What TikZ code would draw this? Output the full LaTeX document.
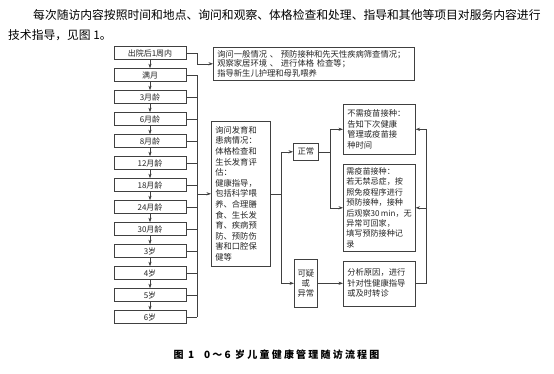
\documentclass[tikz,border=0pt]{standalone}
\usepackage{fontspec}
\setmainfont{Noto Sans CJK SC}
\usetikzlibrary{arrows.meta}
\begin{document}
\begin{tikzpicture}[x=1pt,y=-1pt,
  line/.style={draw=black!75, line width=0.6pt},
  arr/.style={line, -{Stealth[length=4.5pt,width=3.2pt]}},
  lbox/.style={draw=black!75, line width=0.6pt, minimum width=72pt, minimum height=13pt, inner sep=0pt, font=\fontsize{8}{9}\selectfont, text=black!85},
  tbox/.style={draw=black!75, line width=0.6pt, anchor=north west, align=left, inner xsep=4pt, inner ysep=2pt, font=\fontsize{8.3}{10.5}\selectfont, text=black!85},
  cbox/.style={draw=black!75, line width=0.6pt, anchor=north west, align=center, inner sep=0pt, font=\fontsize{8.3}{10}\selectfont, text=black!85}]
\useasboundingbox (0,0) rectangle (554,373);
\fill[white] (0,0) rectangle (554,373);

% header paragraph
\node[anchor=west, inner sep=0pt, font=\fontsize{11.8}{14}\selectfont] (h1) at (33,15) {每次随访内容按照时间和地点、询问和观察、体格检查和处理、指导和其他等项目对服务内容进行};
\node[anchor=west, inner sep=0pt, font=\fontsize{11.8}{14}\selectfont] (h2) at (8,35) {技术指导，见图 1。};

% left column
\foreach \i/\y/\t in {1/53/出院后1周内, 2/75/满月, 3/97/3月龄, 4/119/6月龄, 5/141/8月龄, 6/163/12月龄, 7/185/18月龄, 8/207/24月龄, 9/229/30月龄, 10/251/3岁, 11/273/4岁, 12/295/5岁, 13/317/6岁}
  \node[lbox] (L\i) at (150,\y) {\t};
\foreach \i [evaluate=\i as \j using int(\i+1)] in {1,...,12}
  \draw[arr] (L\i.south) -- (L\j.north);

% boxes
\node[tbox, text width=193pt, minimum height=33pt, font=\fontsize{8.3}{9.8}\selectfont] (top) at (213,47) {询问一般情况 、 预防接种和先天性疾病筛查情况；\\观察家居环境 、 进行体格 检查等；\\指导新生儿护理和母乳喂养};
\node[tbox, text width=51pt, minimum height=145pt, font=\fontsize{8.3}{10.6}\selectfont] (mid) at (211,121) {询问发育和\\患病情况：\\体格检查和\\生长发育评\\估：\\健康指导，\\包括科学喂\\养、合理膳\\食、生长发\\育、疾病预\\防、预防伤\\害和口腔保\\健等};
\node[cbox, minimum width=25pt, minimum height=17pt] (zc) at (293,143) {正常};
\node[cbox, minimum width=23pt, minimum height=48pt] (ky) at (294,259) {可疑\\或\\异常};
\node[tbox, text width=64pt, minimum height=50pt] (bx) at (343,104) {不需疫苗接种：\\告知下次健康\\管理或疫苗接\\种时间};
\node[tbox, inner xsep=3pt, text width=66pt, minimum height=87pt, font=\fontsize{8.1}{10.4}\selectfont] (xy) at (343,164) {需疫苗接种：\\若无禁忌症，按\\照免疫程序进行\\预防接种，接种\\\mbox{后观察30\,min，无}\\异常可回家，\\填写预防接种记\\录};
\node[tbox, text width=64pt, minimum height=45pt] (fx) at (343,260.5) {分析原因，进行\\针对性健康指导\\或及时转诊};

% junction columns
\coordinate (j1) at (197,0);
\coordinate (j2) at (281,0);
\coordinate (j3) at (330,0);
\coordinate (j4) at (426,0);

% first visit to top box
\draw[arr] (L1.east) -- (L1.east -| j1) |- (top.west);
% bus from other visits
\foreach \i in {2,...,13}
  \draw[line] (L\i.east) -- (L\i.east -| j1);
\draw[line] (L2.east -| j1) -- (L13.east -| j1);
\draw[arr] (mid.west -| j1) -- (mid.west);

% branch to normal / abnormal
\draw[line] (mid.east) -- (mid.east -| j2);
\draw[line] (zc.west -| j2) -- (ky.west -| j2);
\draw[arr] (zc.west -| j2) -- (zc.west);
\draw[arr] (ky.west -| j2) -- (ky.west);

% normal branch
\draw[line] (zc.east) -- (zc.east -| j3);
\draw[line] (bx.west -| j3) -- (xy.west -| j3);
\draw[arr] (bx.west -| j3) -- (bx.west);
\draw[arr] (xy.west -| j3) -- (xy.west);

% abnormal branch
\draw[arr] (ky.east) -- (fx.west);

% feedback bus on the right
\draw[line] (fx.east) -- (fx.east -| j4) -- (bx.east -| j4);
\draw[arr] (bx.east -| j4) -- (bx.east);
\draw[arr] (xy.east -| j4) -- (xy.east);

% caption
\node[inner sep=0pt, font=\fontsize{10}{12}\selectfont\bfseries\addfontfeature{LetterSpace=22}] (cap) at (276.5,355) {图\ 1\quad 0～6\ 岁儿童健康管理随访流程图};
\end{tikzpicture}
\end{document}
